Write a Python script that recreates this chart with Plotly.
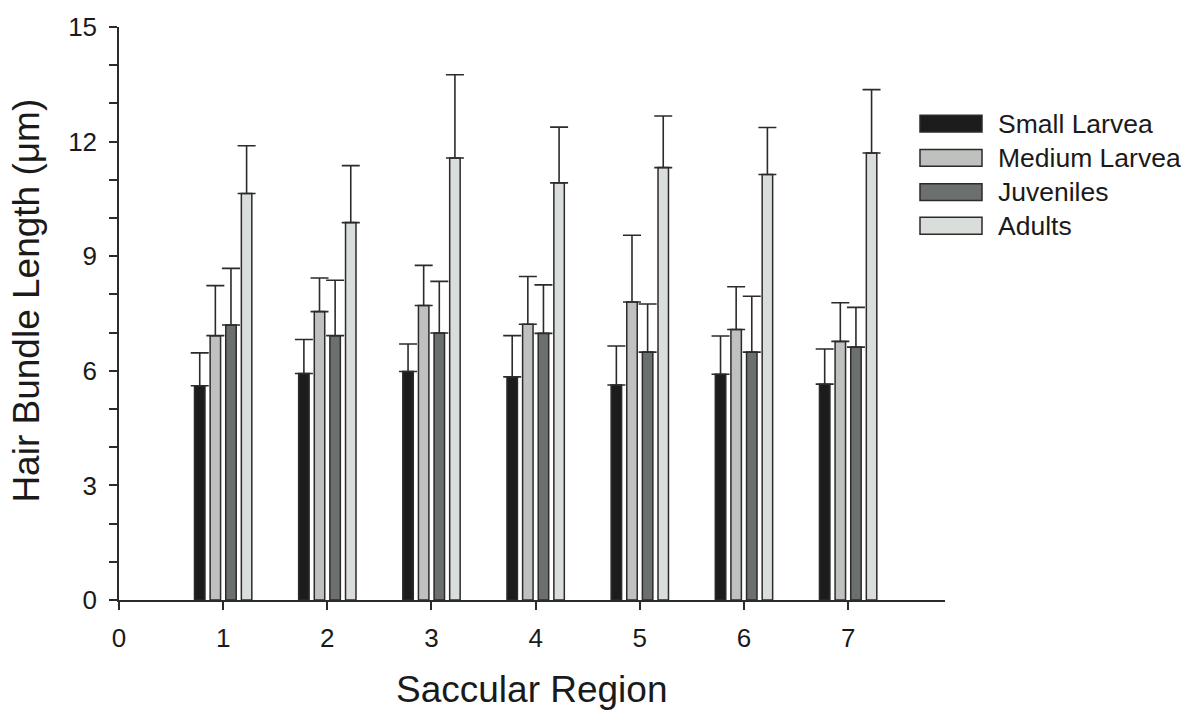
import plotly.graph_objects as go

# Saccular regions along the x axis
regions = [1, 2, 3, 4, 5, 6, 7]

# Mean hair bundle length (µm) per age group
small_larvea = [5.61, 5.93, 5.98, 5.84, 5.63, 5.91, 5.65]
medium_larvea = [6.92, 7.55, 7.71, 7.22, 7.80, 7.08, 6.77]
juveniles = [7.20, 6.92, 6.99, 6.98, 6.49, 6.49, 6.62]
adults = [10.64, 9.88, 11.57, 10.92, 11.32, 11.14, 11.70]

# Upper error (standard deviation, µm)
small_larvea_sd = [0.86, 0.89, 0.72, 1.08, 1.02, 1.00, 0.92]
medium_larvea_sd = [1.31, 0.88, 1.05, 1.25, 1.75, 1.12, 1.01]
juveniles_sd = [1.48, 1.45, 1.35, 1.27, 1.26, 1.46, 1.04]
adults_sd = [1.25, 1.49, 2.18, 1.46, 1.35, 1.23, 1.66]

group_names = ["Small Larvea", "Medium Larvea", "Juveniles", "Adults"]
group_values = [small_larvea, medium_larvea, juveniles, adults]
group_sd = [small_larvea_sd, medium_larvea_sd, juveniles_sd, adults_sd]
group_colors = ["#1c1c1c", "#bec1be", "#6b706f", "#dadedb"]

y_ticks = [0, 3, 6, 9, 12, 15]
x_ticks = [0, 1, 2, 3, 4, 5, 6, 7]

EDGE = "#2b2b2b"
FONT = "Liberation Sans, Arial, sans-serif"

fig = go.Figure()
for name, vals, sd, col in zip(group_names, group_values, group_sd, group_colors):
    fig.add_trace(go.Bar(
        x=regions, y=vals, name=name,
        marker=dict(color=col, line=dict(color=EDGE, width=1.5)),
        error_y=dict(type="data", array=sd, arrayminus=[0] * len(sd),
                     symmetric=False, color=EDGE, thickness=1.6, width=9),
        showlegend=False,
    ))

# Legend built from boxes and labels at the right of the plot
L, R, B, T = 119, 945, 600, 22
W, H = R - L, B - T
def px_x(p):
    return (p - L) / W
def px_y(p):
    return (B - p) / H

row_centres = [119.5, 154, 188.5, 222.5]
for name, col, cy in zip(group_names, group_colors, row_centres):
    fig.add_shape(type="rect", xref="paper", yref="paper",
                  x0=px_x(920), x1=px_x(982), y0=px_y(cy + 8.5), y1=px_y(cy - 8.5),
                  fillcolor=col, line=dict(color=EDGE, width=1.5))
    fig.add_annotation(xref="paper", yref="paper", x=px_x(996), y=px_y(cy),
                       text=name, showarrow=False, xanchor="left", yanchor="middle",
                       font=dict(family=FONT, size=26.5, color="#1a1a1a"))

# Axis titles placed as free text
fig.add_annotation(xref="paper", yref="paper", x=px_x(531), y=px_y(690),
                   text="Saccular Region", showarrow=False,
                   xanchor="center", yanchor="middle",
                   font=dict(family=FONT, size=37, color="#1a1a1a"))
fig.add_annotation(xref="paper", yref="paper", x=px_x(27), y=px_y(298),
                   text="Hair Bundle Length (μm)", showarrow=False, textangle=-90,
                   xanchor="center", yanchor="middle",
                   font=dict(family=FONT, size=37, color="#1a1a1a"))

fig.update_layout(
    width=1197, height=713,
    margin=dict(l=L, r=1197 - R, t=T, b=713 - B),
    paper_bgcolor="white", plot_bgcolor="white",
    barmode="group", bargap=0.4, bargroupgap=0.33,
    font=dict(family=FONT, color="#1a1a1a"),
)
fig.update_xaxes(
    range=[0, 7.93], tickvals=x_ticks, ticktext=[str(v) for v in x_ticks],
    showline=True, linecolor=EDGE, linewidth=1.5, showgrid=False, zeroline=False,
    ticks="outside", ticklen=8, tickwidth=1.5, tickcolor=EDGE,
    tickfont=dict(size=26), ticklabelstandoff=6,
)
fig.update_yaxes(
    range=[0, 15], tickvals=y_ticks, ticktext=[str(v) for v in y_ticks],
    showline=True, linecolor=EDGE, linewidth=1.5, showgrid=False, zeroline=False,
    ticks="outside", ticklen=8, tickwidth=1.5, tickcolor=EDGE,
    minor=dict(dtick=1, ticks="outside", ticklen=8, tickwidth=1.5, tickcolor=EDGE, showgrid=False),
    tickfont=dict(size=26), ticklabelstandoff=7,
)

fig.write_html("out.html")
